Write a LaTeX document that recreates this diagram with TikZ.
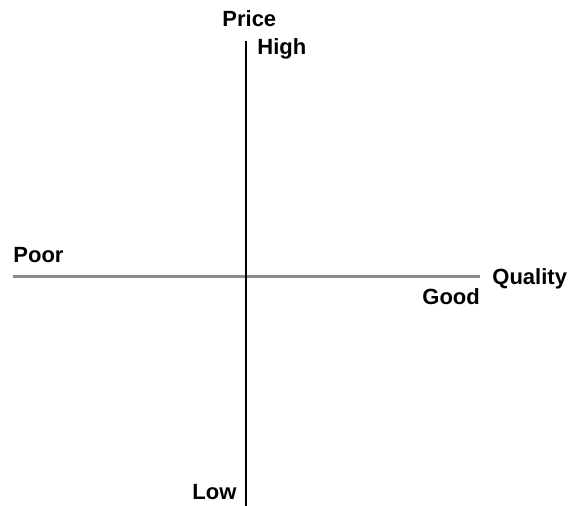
\documentclass[tikz,border=0pt]{standalone}
\usepackage{fontspec}
\setmainfont{Liberation Sans}
\usetikzlibrary{positioning}

\begin{document}
\begin{tikzpicture}[
  x=0.5pt, y=-0.5pt,
  label/.style={font=\fontsize{11}{13}\selectfont\bfseries, inner sep=0pt, anchor=base west},
  priceaxis/.style={line width=1pt, black},
  qualityaxis/.style={line width=1.5pt, black!45},
]
\useasboundingbox (0,0) rectangle (572,506);
% axes
\coordinate (ptop) at (246,41);
\coordinate (pbot) at (246,506);
\coordinate (qleft) at (13,277);
\coordinate (qright) at (480,277);
\draw[qualityaxis] (qleft) -- (qright);
\draw[priceaxis] (ptop) -- (pbot);

% labels
\node[label] (price)   at (222,27)  {Price};
\node[label] (high)    at (257,55)  {High};
\node[label] (poor)    at (13,263)  {Poor};
\node[label] (quality) at (492,285) {Quality};
\node[label] (good)    at (422,305) {Good};
\node[label] (low)     at (192,500) {Low};
\end{tikzpicture}
\end{document}
